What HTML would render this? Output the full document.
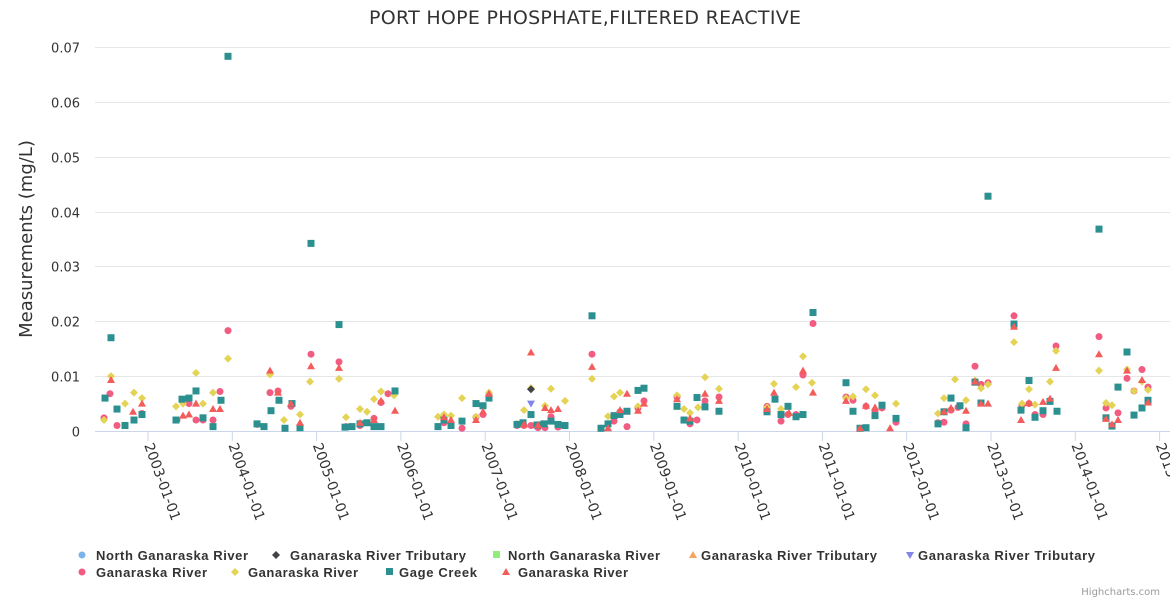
<!DOCTYPE html>
<html><head><meta charset="utf-8"><style>
body{margin:0;background:#fff;}
svg{display:block;font-family:"DejaVu Sans","Liberation Sans",sans-serif;}
</style></head><body>
<svg id="c" width="1170" height="600" xmlns="http://www.w3.org/2000/svg">
<rect width="1170" height="600" fill="#fff"/>
<text x="585" y="24" text-anchor="middle" font-size="19" textLength="432" fill="#333">PORT HOPE PHOSPHATE,FILTERED REACTIVE</text>
<g id="grid"></g>
<line x1="95" y1="431.5" x2="1170" y2="431.5" stroke="#ccd6eb"/>
<text transform="translate(32,239) rotate(-90)" text-anchor="middle" font-size="18" fill="#333">Measurements (mg/L)</text>
<g id="pts"></g>
<g font-size="13" font-weight="bold" fill="#333" font-family="Liberation Sans, sans-serif">
<circle cx="82" cy="555" r="3.5" fill="#7cb5ec"/><text x="96" y="560" textLength="152">North Ganaraska River</text>
<path d="M276,551 l4,4 -4,4 -4,-4z" fill="#434348"/><text x="290" y="560" textLength="176">Ganaraska River Tributary</text>
<rect x="493" y="551" width="7" height="7" fill="#90ed7d"/><text x="508" y="560" textLength="152">North Ganaraska River</text>
<path d="M693,551 l4,7 h-8z" fill="#f7a35c"/><text x="701" y="560" textLength="176">Ganaraska River Tributary</text>
<path d="M906,552 h8 l-4,7z" fill="#8085e9"/><text x="918" y="560" textLength="177">Ganaraska River Tributary</text>
<circle cx="82" cy="572" r="3.5" fill="#f15c80"/><text x="96" y="577" textLength="111">Ganaraska River</text>
<path d="M235,568 l4,4 -4,4 -4,-4z" fill="#e4d354"/><text x="248" y="577" textLength="110">Ganaraska River</text>
<rect x="386" y="568" width="7" height="7" fill="#2b908f"/><text x="399" y="577" textLength="78">Gage Creek</text>
<path d="M506,568 l4,7 h-8z" fill="#f45b5b"/><text x="518" y="577" textLength="110">Ganaraska River</text>
</g>
<text x="1160" y="595" text-anchor="end" font-size="10" fill="#999">Highcharts.com</text>
</svg>
<script>
var NS="http://www.w3.org/2000/svg",g=document.getElementById('grid'),p=document.getElementById('pts');
function el(t,a,par){var e=document.createElementNS(NS,t);for(var k in a)e.setAttribute(k,a[k]);if(a.txt){e.textContent=a.txt;e.removeAttribute('txt');}par.appendChild(e);return e;}
function Y(v){return 431-v*5486;}
for(var i=0;i<=7;i++){var y=Math.round(Y(i/100))+0.5;if(i>0)el('line',{x1:95,x2:1170,y1:y,y2:y,stroke:'#e6e6e6'},g);
el('text',{x:80,y:y+5,'text-anchor':'end','font-size':13,fill:'#333',txt:i==0?'0':'0.0'+i},g);}
var yrs=[2003,2004,2005,2006,2007,2008,2009,2010,2011,2012,2013,2014,2015];
yrs.forEach(function(yr,i){var x=148+i*84.3;el('line',{x1:x,x2:x,y1:431,y2:441,stroke:'#ccd6eb'},g);
el('text',{transform:'translate('+(x-4)+',445) rotate(70)','font-size':14,fill:'#333',txt:yr+'-01-01'},g);});
var sq=[[105,6],[111,17],[117,4],[125,1],[134,2],[142,3],[176,2],[182,5.8],[189,6],[196,7.3],[203,2.4],[213,0.8],[221,5.6],[228,68.3],[257,1.3],[264,0.8],[271,3.7],[279,5.6],[285,0.5],[292,5],[300,0.6],[311,34.2],[339,19.4],[345,0.7],[352,0.8],[360,1.3],[367,1.5],[374,0.8],[381,0.8],[395,7.3],[438,0.8],[444,2],[451,1],[462,1.8],[476,5],[483,4.6],[489,6],[517,1.2],[523,1.5],[531,3],[537,1.1],[544,1.3],[551,1.8],[558,1.2],[565,1],[592,21],[601,0.5],[608,1.3],[614,2.8],[620,3],[627,3.6],[638,7.4],[644,7.8],[677,4.5],[684,2],[690,1.8],[697,6.1],[705,4.4],[719,3.6],[767,3.5],[775,5.8],[781,3],[788,4.5],[796,2.6],[803,3],[813,21.6],[846,8.8],[853,3.6],[860,0.5],[866,0.6],[875,2.8],[882,4.7],[896,2.3],[938,1.3],[944,3.5],[951,6],[960,4.6],[966,0.6],[975,8.9],[981,5.1],[988,42.8],[1014,19.5],[1021,3.8],[1029,9.2],[1035,2.5],[1043,3.7],[1050,5.4],[1057,3.6],[1099,36.8],[1106,2.4],[1112,0.9],[1118,8],[1127,14.4],[1134,2.9],[1142,4.2],[1148,5.6]];
var ci=[[104,2.4],[110,6.8],[117,1],[125,1],[142,3.2],[177,2],[189,5],[196,2],[203,2],[213,2],[220,7.2],[228,18.3],[257,1.2],[270,7],[278,7.3],[291,4.5],[311,14],[339,12.6],[346,0.8],[360,1],[374,2.3],[381,5.2],[388,6.8],[438,0.8],[444,1.5],[462,0.5],[476,2.5],[483,3],[489,6.5],[517,1],[524,1],[531,1],[538,0.6],[545,0.6],[551,2.6],[558,0.7],[592,14],[601,0.5],[614,1.8],[620,3.5],[627,0.8],[638,4.2],[644,5.5],[677,6.2],[684,2],[690,1.3],[697,2],[705,5.5],[719,6.2],[767,4.5],[781,1.8],[788,3],[796,3],[803,10.2],[813,19.6],[846,6.2],[853,5.6],[866,4.5],[875,3.7],[882,4.2],[896,1.6],[938,1.5],[944,1.6],[951,3.8],[958,4.3],[966,1.3],[975,11.8],[981,8.5],[988,8.8],[1014,21],[1022,4.7],[1029,5],[1035,3],[1043,3],[1050,5.5],[1056,15.5],[1099,17.2],[1106,4.2],[1112,1],[1118,3.3],[1127,9.6],[1134,7.3],[1142,11.2],[1148,8]];
var di=[[104,2],[111,10],[125,5],[134,7],[142,6],[176,4.5],[183,5],[196,10.6],[203,5],[213,7],[228,13.2],[270,10.3],[284,2],[300,3],[310,9],[339,9.5],[346,2.5],[360,4],[367,3.5],[374,5.8],[381,7.2],[394,6.5],[438,2.6],[444,3],[451,2.8],[462,6],[476,2.6],[483,4.5],[489,7],[517,1.3],[524,3.8],[531,7.8],[545,4.6],[551,7.7],[565,5.5],[592,9.5],[608,2.7],[614,6.3],[620,7],[638,4.5],[677,6.5],[684,4],[690,3.3],[698,4.3],[705,9.8],[719,7.7],[767,4.3],[774,8.6],[781,4],[796,8],[803,13.6],[812,8.8],[846,6],[853,6.3],[866,7.6],[875,6.5],[896,5],[938,3.2],[944,6],[955,9.4],[966,5.6],[975,9.2],[981,7.8],[988,8.5],[1014,16.2],[1022,5],[1029,7.6],[1035,4.8],[1050,9],[1056,14.6],[1099,11],[1106,5.1],[1112,4.7],[1127,11.2],[1134,7.3],[1142,9],[1148,7.5]];
var tr=[[111,9.3],[133,3.5],[142,5],[183,2.8],[189,3],[196,5],[213,4],[220,4],[270,11],[278,7],[291,5],[300,1.5],[311,11.8],[339,11.5],[360,1.5],[374,2],[381,5.5],[395,3.7],[444,2.5],[451,2],[476,2],[483,3.5],[489,6.8],[524,1.2],[531,14.3],[538,1.1],[545,4.2],[551,3.8],[558,4],[592,11.7],[608,0.5],[620,3.8],[627,6.8],[638,3.7],[644,5],[677,5.8],[690,2.3],[705,6.8],[719,5.5],[767,4],[774,7],[789,3.3],[803,11],[813,7],[846,5.5],[860,0.5],[866,4.6],[875,4.3],[890,0.5],[944,3.5],[951,4.2],[966,3.7],[975,9],[981,5],[988,5],[1014,19],[1021,2],[1029,5.1],[1043,5.3],[1050,5.9],[1056,11.5],[1099,14],[1106,2.2],[1112,1.2],[1118,2],[1127,11],[1142,9.3],[1148,5.2]];
ci.forEach(function(d){el('circle',{cx:d[0],cy:Y(d[1]/1000),r:3.5,fill:'#f15c80'},p);});
di.forEach(function(d){var x=d[0],y=Y(d[1]/1000);el('path',{d:'M'+x+','+(y-4)+'l4,4-4,4-4,-4z',fill:'#e4d354'},p);});
sq.forEach(function(d){el('rect',{x:d[0]-3.5,y:Y(d[1]/1000)-3.5,width:7,height:7,fill:'#2b908f'},p);});
tr.forEach(function(d){var x=d[0],y=Y(d[1]/1000);el('path',{d:'M'+x+','+(y-4)+'l4,7h-8z',fill:'#f45b5b'},p);});
el('path',{d:'M531,'+(Y(0.0076)-4)+'l4,4-4,4-4,-4z',fill:'#434348'},p);
el('path',{d:'M527,'+(Y(0.005)-3)+'h8l-4,7z',fill:'#8085e9'},p);
</script>
</body></html>
